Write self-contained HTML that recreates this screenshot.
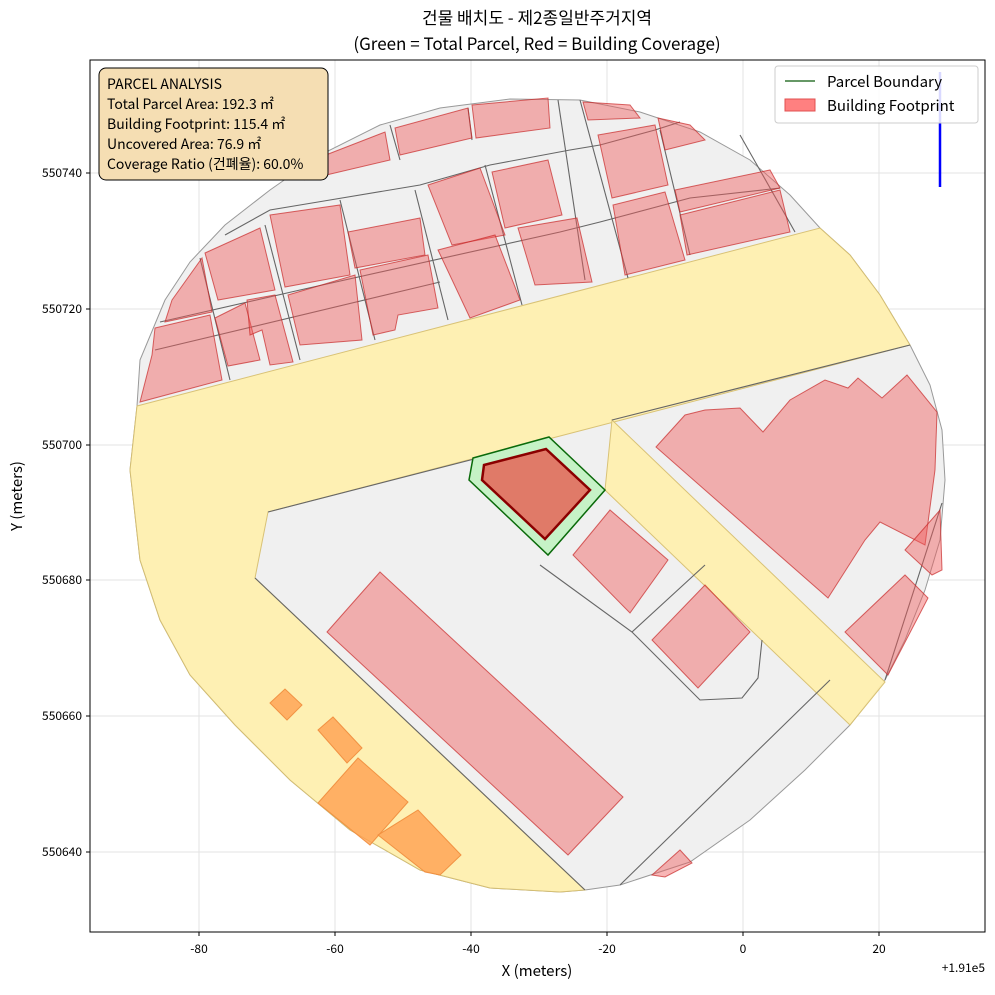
<!DOCTYPE html>
<html><head><meta charset="utf-8"><style>
body{margin:0;background:#fff;}
svg text{font-family:"Noto Sans CJK KR","Liberation Sans",sans-serif;}
</style></head><body>
<svg width="995" height="990" viewBox="0 0 995 990" xmlns="http://www.w3.org/2000/svg">
<rect width="995" height="990" fill="#fff"/>
<g stroke="#e3e3e3" stroke-width="1">
<line x1="199" y1="60" x2="199" y2="932"/><line x1="335" y1="60" x2="335" y2="932"/><line x1="471" y1="60" x2="471" y2="932"/><line x1="607" y1="60" x2="607" y2="932"/><line x1="743" y1="60" x2="743" y2="932"/><line x1="879" y1="60" x2="879" y2="932"/>
<line x1="90" y1="173" x2="985" y2="173"/><line x1="90" y1="309" x2="985" y2="309"/><line x1="90" y1="445" x2="985" y2="445"/><line x1="90" y1="580" x2="985" y2="580"/><line x1="90" y1="716" x2="985" y2="716"/><line x1="90" y1="852" x2="985" y2="852"/>
</g>
<polygon points="137,406 140,360 165,300 190,262 225,225 270,190 320,155 380,125 440,108 510,99 580,100 640,112 700,132 750,160 790,195 820,228 850,255 880,295 910,345 930,385 942,430 945,480 940,540 925,590 905,640 885,680 850,725 805,770 750,820 690,862 620,885 585,890 560,892 490,888 420,870 350,830 290,780 235,725 190,675 160,620 140,560 130,470" fill="#f0f0f0" stroke="#999" stroke-width="1"/>
<g fill="#fff0b0" stroke="#d8c070" stroke-width="1" opacity="0.95">
<polygon points="137,406 820,228 850,255 880,295 910,345 268,512 255,578 585,890 560,892 490,888 420,870 350,830 290,780 235,725 190,675 160,620 140,560 130,470"/>
<polygon points="605,490 612,420 885,682 850,725"/>
</g>
<g fill="none" stroke="#666" stroke-width="1.1">
<polyline points="160,322 300,290 560,232 600,222 690,198 780,188"/>
<polyline points="155,350 440,282"/>
<polyline points="225,235 270,210 330,200 420,185 490,165 570,150 600,145 655,130 680,122"/>
<polyline points="200,258 230,380"/>
<polyline points="265,225 300,360"/>
<polyline points="340,200 375,340"/>
<polyline points="415,190 448,320"/>
<polyline points="485,165 522,305"/>
<polyline points="558,100 585,280"/>
<polyline points="580,100 628,278"/>
<polyline points="660,130 690,255"/>
<polyline points="740,135 795,232"/>
<polyline points="390,125 400,160"/>
<polyline points="468,108 472,140"/>
<polyline points="540,565 632,632 700,700 742,698 758,678 762,640"/>
<polyline points="632,632 705,565"/>
<polyline points="620,885 830,680"/>
<polyline points="885,680 942,503"/>
<polyline points="612,420 910,345"/>
<polyline points="268,512 548,440"/>
<polyline points="255,578 585,890"/>
</g>
<g fill="rgba(240,90,90,0.45)" stroke="rgba(200,40,40,0.7)" stroke-width="1">
<polygon points="300,165 385,132 390,160 305,180"/>
<polygon points="395,128 468,108 472,138 400,155"/>
<polygon points="472,105 548,98 550,128 476,138"/>
<polygon points="583,102 630,105 640,118 588,120"/>
<polygon points="598,135 655,125 668,185 612,198"/>
<polygon points="658,118 690,125 705,140 665,150"/>
<polygon points="675,190 770,170 780,188 680,212"/>
<polygon points="680,215 780,190 790,232 687,255"/>
<polygon points="613,205 665,192 685,260 625,275"/>
<polygon points="428,185 480,168 505,235 452,245"/>
<polygon points="492,172 548,160 562,215 505,228"/>
<polygon points="518,228 577,218 592,282 535,285"/>
<polygon points="438,250 495,235 520,300 470,318"/>
<polygon points="348,232 420,218 425,255 355,268"/>
<polygon points="360,270 428,255 438,308 398,315 395,330 373,335"/>
<polygon points="270,215 340,205 350,275 285,287"/>
<polygon points="288,295 355,275 362,340 300,345"/>
<polygon points="205,253 260,228 275,290 218,300"/>
<polygon points="172,300 202,258 212,312 165,322"/>
<polygon points="215,318 245,303 260,360 228,366"/>
<polygon points="247,300 275,295 293,362 270,365 262,330 250,335"/>
<polygon points="155,328 210,315 222,380 140,402 152,355"/>
<polygon points="656,447 685,415 705,410 740,408 763,432 790,400 825,380 848,388 858,378 882,398 907,375 937,412 935,470 925,545 880,522 865,540 828,598"/>
<polygon points="573,555 610,510 668,560 630,613"/>
<polygon points="652,640 705,585 750,632 698,688"/>
<polygon points="845,632 905,575 928,598 888,675"/>
<polygon points="905,550 940,510 942,570 932,575"/>
<polygon points="327,632 380,572 623,797 568,855"/>
<polygon points="652,875 680,850 692,863 665,877"/>
</g>
<g fill="rgba(255,160,80,0.8)" stroke="rgba(240,140,60,0.9)" stroke-width="1">
<polygon points="270,703 285,689 302,705 287,720"/>
<polygon points="318,730 333,717 362,748 347,763"/>
<polygon points="318,803 358,758 408,802 370,845"/>
<polygon points="378,835 418,810 461,855 440,875 425,872"/>
</g>
<polygon points="473,458 549,437 605,490 548,555 469,480" fill="#c6f2c6" stroke="#0a6a0a" stroke-width="1.5"/>
<polygon points="484,465 546,449 590,490 545,539 482,480" fill="#e07a68" stroke="#8b0000" stroke-width="2.5"/>
<line x1="940" y1="72" x2="940" y2="187" stroke="#0000ff" stroke-width="2.5"/>
<rect x="90" y="60" width="895" height="872" fill="none" stroke="#000" stroke-width="1"/>
<g stroke="#000" stroke-width="1">
<line x1="199" y1="932" x2="199" y2="936"/><line x1="335" y1="932" x2="335" y2="936"/><line x1="471" y1="932" x2="471" y2="936"/><line x1="607" y1="932" x2="607" y2="936"/><line x1="743" y1="932" x2="743" y2="936"/><line x1="879" y1="932" x2="879" y2="936"/>
<line x1="86" y1="173" x2="90" y2="173"/><line x1="86" y1="309" x2="90" y2="309"/><line x1="86" y1="445" x2="90" y2="445"/><line x1="86" y1="580" x2="90" y2="580"/><line x1="86" y1="716" x2="90" y2="716"/><line x1="86" y1="852" x2="90" y2="852"/>
</g>
<g font-size="12" fill="#000" text-anchor="middle">
<text x="199" y="953">-80</text><text x="335" y="953">-60</text><text x="471" y="953">-40</text><text x="607" y="953">-20</text><text x="743" y="953">0</text><text x="879" y="953">20</text>
</g>
<g font-size="12" fill="#000" text-anchor="end">
<text x="82" y="177">550740</text><text x="82" y="313">550720</text><text x="82" y="449">550700</text><text x="82" y="584">550680</text><text x="82" y="720">550660</text><text x="82" y="856">550640</text>
</g>
<text x="985" y="972" font-size="12" text-anchor="end">+1.91e5</text>
<text x="537" y="976" font-size="15" text-anchor="middle">X (meters)</text>
<text x="22" y="496" font-size="15" text-anchor="middle" transform="rotate(-90 22 496)">Y (meters)</text>
<text x="537" y="24" font-size="17" text-anchor="middle">건물 배치도 - 제2종일반주거지역</text>
<text x="537" y="50" font-size="17" text-anchor="middle">(Green = Total Parcel, Red = Building Coverage)</text>
<rect x="99" y="68" width="229" height="112" rx="7" fill="#f5deb3" stroke="#000" stroke-width="1"/>
<g font-size="14" fill="#000">
<text x="107" y="89">PARCEL ANALYSIS</text>
<text x="107" y="109">Total Parcel Area: 192.3 ㎡</text>
<text x="107" y="129">Building Footprint: 115.4 ㎡</text>
<text x="107" y="149">Uncovered Area: 76.9 ㎡</text>
<text x="107" y="169">Coverage Ratio (건폐율): 60.0%</text>
</g>
<rect x="775" y="66" width="203" height="57" rx="3" fill="rgba(255,255,255,0.85)" stroke="#ccc"/>
<line x1="785" y1="81" x2="815" y2="81" stroke="#0a5a0a" stroke-width="1.2"/>
<text x="827" y="87" font-size="15">Parcel Boundary</text>
<rect x="785" y="99" width="30" height="12" fill="#ff8080" stroke="#e05050"/>
<text x="827" y="111" font-size="15">Building Footprint</text>
</svg>
</body></html>
